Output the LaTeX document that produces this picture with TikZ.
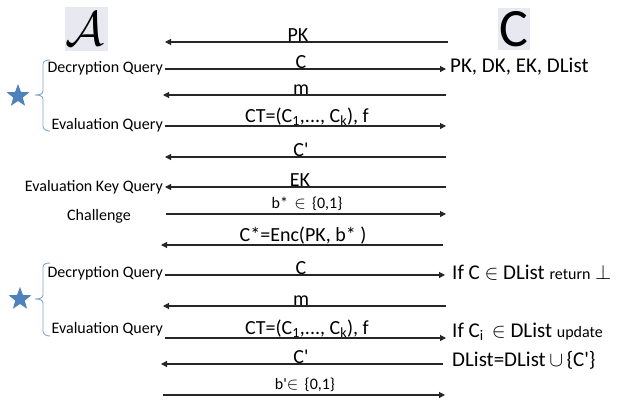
\documentclass[tikz,border=0pt]{standalone}
\usepackage{fontspec}
\setmainfont{Carlito}
\usetikzlibrary{arrows.meta,shapes.geometric}
\definecolor{starblue}{RGB}{79,129,189}
\definecolor{bracecol}{RGB}{130,165,210}
\definecolor{hdrbg}{RGB}{232,232,240}
\newcommand\mysmallsz{\fontsize{16}{17}\selectfont}
\newcommand\apo{\textquotesingle}
\begin{document}
\begin{tikzpicture}[x=1pt,y=-1pt,
  msg/.style={line width=1.1pt,draw=black!85},
  rarr/.style={msg,-{Triangle[length=6pt,width=6pt]}},
  lbl/.style={anchor=south,inner sep=0.5pt,font=\fontsize{20}{21}\selectfont},
  slbl/.style={anchor=south,inner sep=1pt,font=\fontsize{16}{17}\selectfont},
  qlbl/.style={anchor=east,inner sep=1pt,font=\fontsize{16}{17}\selectfont},
  rlbl/.style={anchor=west,inner sep=1pt,font=\fontsize{21}{22}\selectfont},
  brc/.style={draw=bracecol,line width=0.9pt},
  starnode/.style={star,star points=5,star point ratio=2.4,fill=starblue,minimum size=24pt,inner sep=0pt}
]
\useasboundingbox (0,0) rectangle (620,399);
% headers
\node[fill=hdrbg,inner sep=0pt,minimum width=43pt,minimum height=44pt] (A) at (86,29) {};
\node[inner sep=0pt,scale=1.95] (Atxt) at (85,29) {\fontsize{24}{24}\selectfont$\mathcal{A}$};
\node[fill=hdrbg,inner sep=0pt,minimum width=32pt,minimum height=42pt] (Ch) at (514,29) {};
\node[inner sep=0pt] (Chtxt) at (514,29) {\fontsize{54}{54}\selectfont C};
% coordinates
\foreach \n/\y/\xl/\xr in {1/42/165/448, 2/69/165/446, 3/95/163/446, 4/126/165/446, 5/157/165/446, 6/187/165/446, 7/214/166/446, 8/245/161/443, 9/275/165/445, 10/306/163/446, 11/338/165/446, 12/364/161/443, 13/395/163/445}{
  \coordinate (l\n) at (\xl,\y);
  \coordinate (r\n) at (\xr,\y);
}
\draw[rarr] (r1) -- (l1);
\draw[rarr] (l2) -- (r2);
\draw[rarr] (r3) -- (l3);
\draw[rarr] (l4) -- (r4);
\draw[rarr] (r5) -- (l5);
\draw[rarr] (r6) -- (l6);
\draw[rarr] (l7) -- (r7);
\draw[rarr] (r8) -- (l8);
\draw[rarr] (l9) -- (r9);
\draw[rarr] (r10) -- (l10);
\draw[rarr] (l11) -- (r11);
\draw[rarr] (r12) -- (l12);
\draw[rarr] (l13) -- (r13);
% labels over messages
\node[lbl] (t1) at (298,42) {PK};
\node[lbl] (t2) at (301,69) {C};
\node[lbl] (t3) at (301,95) {m};
\node[lbl] (t4) at (307,126) {CT=(C\textsubscript{1},..., C\textsubscript{k}), f};
\node[lbl] (t5) at (301,157) {C\apo};
\node[lbl] (t6) at (300,187) {EK};
\node[slbl] (t7) at (307,212) {b*\, $\in$\, \{0,1\}};
\node[lbl] (t8) at (303,245) {C*=Enc(PK, b* )};
\node[lbl] (t9) at (301,275) {C};
\node[lbl] (t10) at (301,306) {m};
\node[lbl] (t11) at (307,338) {CT=(C\textsubscript{1},..., C\textsubscript{k}), f};
\node[lbl] (t12) at (301,364) {C\apo};
\node[slbl] (t13) at (305,393) {b\apo$\in$\, \{0,1\}};
% query labels
\node[qlbl] (q1) at (164,68) {Decryption Query};
\node[qlbl] (q2) at (164,125) {Evaluation Query};
\node[qlbl] (q3) at (164,187) {Evaluation Key Query};
\node[qlbl,anchor=center] (q4) at (99,216) {Challenge};
\node[qlbl] (q5) at (164,273) {Decryption Query};
\node[qlbl] (q6) at (164,329) {Evaluation Query};
% braces and stars
\draw[brc] (50,60) to[out=180,in=90] (43,64) -- (43,91) to[out=-90,in=0] (35,95) to[out=0,in=90] (43,99) -- (43,126) to[out=-90,in=180] (50,131);
\draw[brc] (50,263) to[out=180,in=90] (43,267) -- (43,295) to[out=-90,in=0] (35,299) to[out=0,in=90] (43,303) -- (43,331) to[out=-90,in=180] (50,336);
\node[starnode] (s1) at (18,96) {};
\node[starnode] (s2) at (20,299) {};
% right labels
\node[rlbl] (c1) at (449,67) {PK, DK, EK, DList};
\node[rlbl] (c2) at (451,273) {If C $\in$ DList {\mysmallsz return} $\bot$};
\node[rlbl] (c3) at (451,332) {If C\textsubscript{i} \,$\in$ DList {\mysmallsz update}};
\node[rlbl] (c4) at (451,360) {DList=DList$\,\cup\,$\{C\apo\}};
\end{tikzpicture}
\end{document}
